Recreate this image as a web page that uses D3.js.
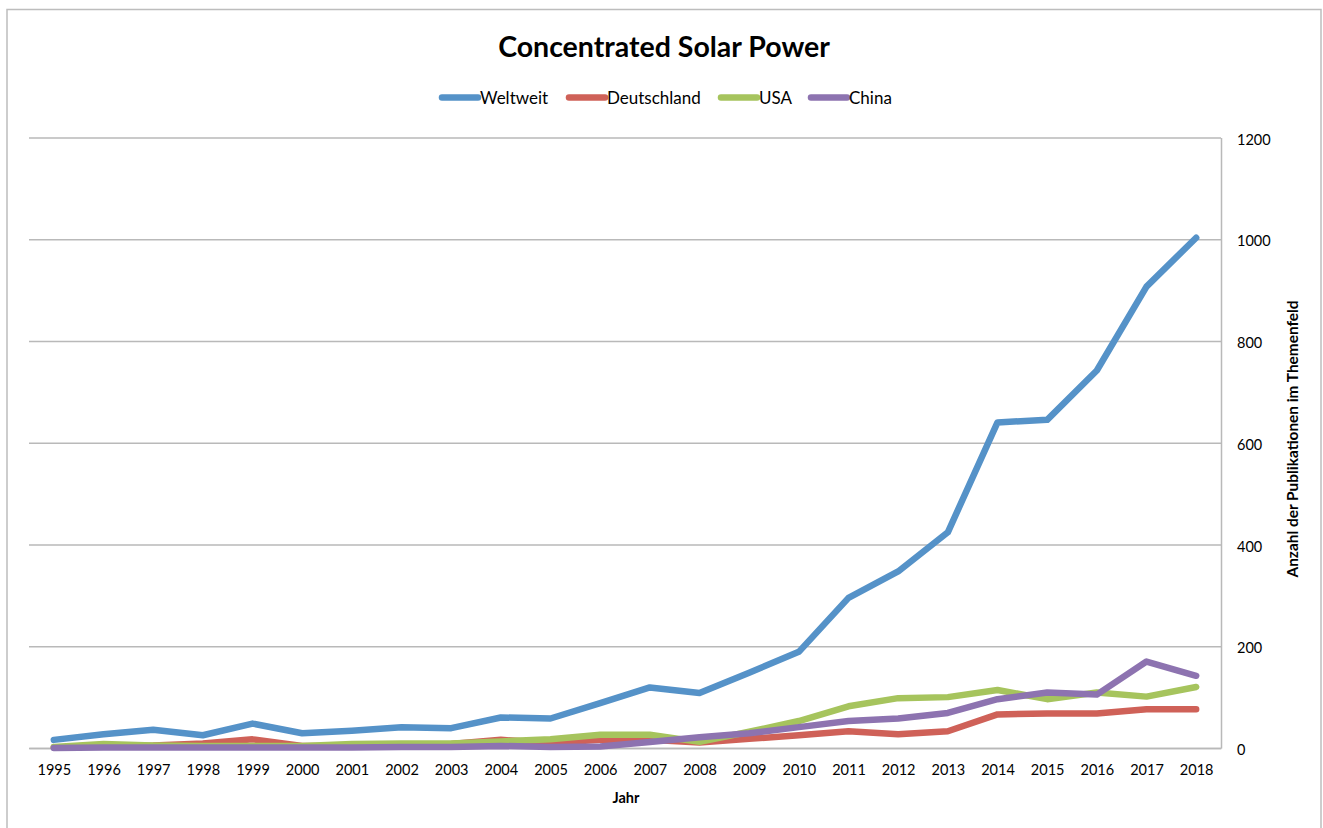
<!DOCTYPE html>
<html>
<head>
<meta charset="utf-8">
<script src="https://cdn.jsdelivr.net/npm/d3@7"></script>
<style>
  html, body { margin: 0; padding: 0; background: #fff; }
  svg { display: block; font-family: Lato, "Open Sans", sans-serif; }
</style>
</head>
<body>
<svg id="chart" width="1323" height="828"></svg>
<script>
// Publications per year on concentrated solar power
const years = [1995, 1996, 1997, 1998, 1999, 2000, 2001, 2002, 2003, 2004, 2005, 2006,
               2007, 2008, 2009, 2010, 2011, 2012, 2013, 2014, 2015, 2016, 2017, 2018];
const weltweit    = [16, 27, 36, 25, 48, 29, 34, 41, 39, 60, 58, 88, 119, 108, 148, 189, 295, 347, 424, 640, 645, 742, 907, 1003];
const deutschland = [1, 4, 5, 9, 17, 4, 4, 6, 8, 16, 10, 16, 16, 11, 18, 25, 33, 27, 33, 66, 68, 68, 76, 76];
const usa         = [2, 8, 5, 4, 4, 4, 8, 9, 9, 13, 17, 26, 26, 12, 32, 53, 82, 98, 100, 114, 96, 109, 101, 120];
const china       = [0, 1, 1, 1, 1, 1, 1, 2, 2, 4, 2, 3, 12, 21, 29, 41, 53, 58, 69, 96, 109, 105, 170, 142];
const seriesNames = ["Weltweit", "Deutschland", "USA", "China"];
const seriesColors = ["#5592c8", "#cf6158", "#a6c45d", "#8d73b0"];
const yTicks = [0, 200, 400, 600, 800, 1000, 1200];

const series = [weltweit, deutschland, usa, china].map((vals, i) => ({
  name: seriesNames[i], color: seriesColors[i],
  points: vals.map((v, j) => ({ year: years[j], value: v }))
}));

const svg = d3.select("#chart");
const plot = { left: 29, right: 1221, top: 137.5, bottom: 748 };

// Outer chart frame
svg.append("rect")
  .attr("x", 7).attr("y", 9.5).attr("width", 1314).attr("height", 840)
  .attr("fill", "none").attr("stroke", "#bdbdbd").attr("stroke-width", 1.5);

const x = d3.scalePoint().domain(years).range([plot.left, plot.right]).padding(0.5);
const y = d3.scaleLinear().domain([0, 1200]).range([plot.bottom, plot.top]);

// Horizontal gridlines
const grid = svg.append("g")
  .attr("transform", `translate(${plot.right},0)`)
  .call(d3.axisLeft(y).tickValues(yTicks).tickSize(plot.right - plot.left).tickFormat(""));
grid.select(".domain").remove();
grid.selectAll(".tick line").attr("stroke", "#b9b9b9").attr("stroke-width", 1.5);

// Right value axis
const yAxis = svg.append("g")
  .attr("transform", `translate(${plot.right},0)`)
  .call(d3.axisRight(y).tickValues(yTicks).tickSize(0).tickPadding(16).tickFormat(d3.format("d")));
yAxis.select(".domain").attr("stroke", "#b9b9b9").attr("stroke-width", 1.5);
yAxis.selectAll(".tick text").attr("font-size", 14.5).attr("fill", "#000")
  .attr("font-family", "Lato, sans-serif").attr("dy", "0.45em");

// Bottom category axis
const xAxis = svg.append("g")
  .attr("transform", `translate(0,${plot.bottom})`)
  .call(d3.axisBottom(x).tickSize(0).tickPadding(17).tickFormat(d3.format("d")));
xAxis.select(".domain").attr("stroke", "#b9b9b9").attr("stroke-width", 1.5);
xAxis.selectAll(".tick text").attr("font-size", 14.5).attr("fill", "#000")
  .attr("font-family", "Lato, sans-serif");

// Series lines
const line = d3.line().x(d => x(d.year)).y(d => y(d.value));
svg.append("g").selectAll("path").data(series).join("path")
  .attr("d", d => line(d.points))
  .attr("fill", "none")
  .attr("stroke", d => d.color)
  .attr("stroke-width", 6.5)
  .attr("stroke-linejoin", "round")
  .attr("stroke-linecap", "round");

// Title
svg.append("text")
  .attr("x", 664).attr("y", 57)
  .attr("text-anchor", "middle")
  .attr("font-size", 28.5).attr("font-weight", "bold")
  .text("Concentrated Solar Power");

// Legend
const legendItems = [
  { x: 442 }, { x: 569 }, { x: 721 }, { x: 811 }
];
const legend = svg.append("g").selectAll("g").data(series).join("g")
  .attr("transform", (d, i) => `translate(${legendItems[i].x},97.5)`);
legend.append("line")
  .attr("x1", 0).attr("x2", 36).attr("y1", 0).attr("y2", 0)
  .attr("stroke", d => d.color).attr("stroke-width", 6.5).attr("stroke-linecap", "round");
legend.append("text")
  .attr("x", 38).attr("y", 0).attr("dy", "0.36em")
  .attr("font-size", 17)
  .text(d => d.name);

// Axis titles
svg.append("text")
  .attr("x", 626).attr("y", 803)
  .attr("text-anchor", "middle")
  .attr("font-size", 14.5).attr("font-weight", "bold")
  .text("Jahr");

svg.append("text")
  .attr("transform", "translate(1293,439) rotate(-90)")
  .attr("text-anchor", "middle").attr("dy", "0.35em")
  .attr("font-size", 15.4).attr("font-weight", "bold")
  .text("Anzahl der Publikationen im Themenfeld");
</script>
</body>
</html>
